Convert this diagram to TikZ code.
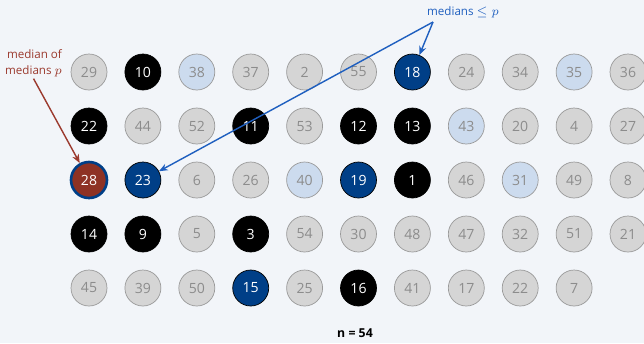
\documentclass[tikz,border=0pt]{standalone}
\usepackage{fontspec}
\setmainfont{Open Sans}
\usetikzlibrary{arrows.meta}

\definecolor{sfondo}{HTML}{F2F5F9}
\definecolor{grigio}{HTML}{D5D5D5}
\definecolor{bordogrigio}{HTML}{9A9A9A}
\definecolor{testogrigio}{HTML}{8C8C8C}
\definecolor{celeste}{HTML}{CCDBEE}
\definecolor{blu}{HTML}{003F87}
\definecolor{rosso}{HTML}{8E3224}
\definecolor{rossotesto}{HTML}{9B3A2E}
\definecolor{blutesto}{HTML}{1F5FBF}

\tikzset{
  palla/.style={circle, minimum size=0.72cm, inner sep=0pt, font=\fontsize{8}{9}\selectfont},
  g/.style={palla, fill=grigio, draw=bordogrigio, text=testogrigio},
  c/.style={palla, fill=celeste, draw=bordogrigio, text=testogrigio},
  k/.style={palla, fill=black, draw=black, text=white},
  b/.style={palla, fill=blu, draw=black, text=white},
  r/.style={palla, fill=rosso, draw=blu, line width=1.5pt, text=white},
  freccia/.style={-{Stealth[length=5pt,width=4pt]}, thick}
}

\begin{document}
\begin{tikzpicture}[x=0.02cm, y=-0.02cm]
% Sfondo
\fill[sfondo] (0,0) rectangle (644,343);
\useasboundingbox (0,0) rectangle (644,343);

% Righe di elementi
\foreach \r/\riga in {
  1/{1/29/g, 2/10/k, 3/38/c, 4/37/g, 5/2/g, 6/55/g, 7/18/b, 8/24/g, 9/34/g, 10/35/c, 11/36/g},
  2/{1/22/k, 2/44/g, 3/52/g, 4/11/k, 5/53/g, 6/12/k, 7/13/k, 8/43/c, 9/20/g, 10/4/g, 11/27/g},
  3/{1/28/r, 2/23/b, 3/6/g, 4/26/g, 5/40/c, 6/19/b, 7/1/k, 8/46/g, 9/31/c, 10/49/g, 11/8/g},
  4/{1/14/k, 2/9/k, 3/5/g, 4/3/k, 5/54/g, 6/30/g, 7/48/g, 8/47/g, 9/32/g, 10/51/g, 11/21/g},
  5/{1/45/g, 2/39/g, 3/50/g, 4/15/b, 5/25/g, 6/16/k, 7/41/g, 8/17/g, 9/22/g, 10/7/g}} {
  \foreach \col/\val/\tipo in \riga {
    \node[\tipo] (c-\r-\col) at ({89+53.9*(\col-1)}, {72+54*(\r-1)}) {\val};
  }
}

% Etichetta mediana delle mediane
\node[align=right, anchor=east, inner sep=1pt, text=rossotesto, font=\fontsize{6.6}{9}\selectfont]
  (mm) at (64,63) {median of\\medians $p$};
\draw[freccia, rossotesto] (mm.south) -- (c-3-1);

% Etichetta mediane <= p
\node[text=blutesto, font=\fontsize{6.6}{8}\selectfont] (mp) at (463,12) {medians $\le p$};
\coordinate (bivio) at (433,22);
\draw[freccia, blutesto] (bivio) -- (c-1-7);
\draw[freccia, blutesto] (bivio) -- (c-3-2);

% Numero di elementi
\node[font=\bfseries\fontsize{7}{8}\selectfont] (n) at (355,333) {n = 54};

\end{tikzpicture}
\end{document}
